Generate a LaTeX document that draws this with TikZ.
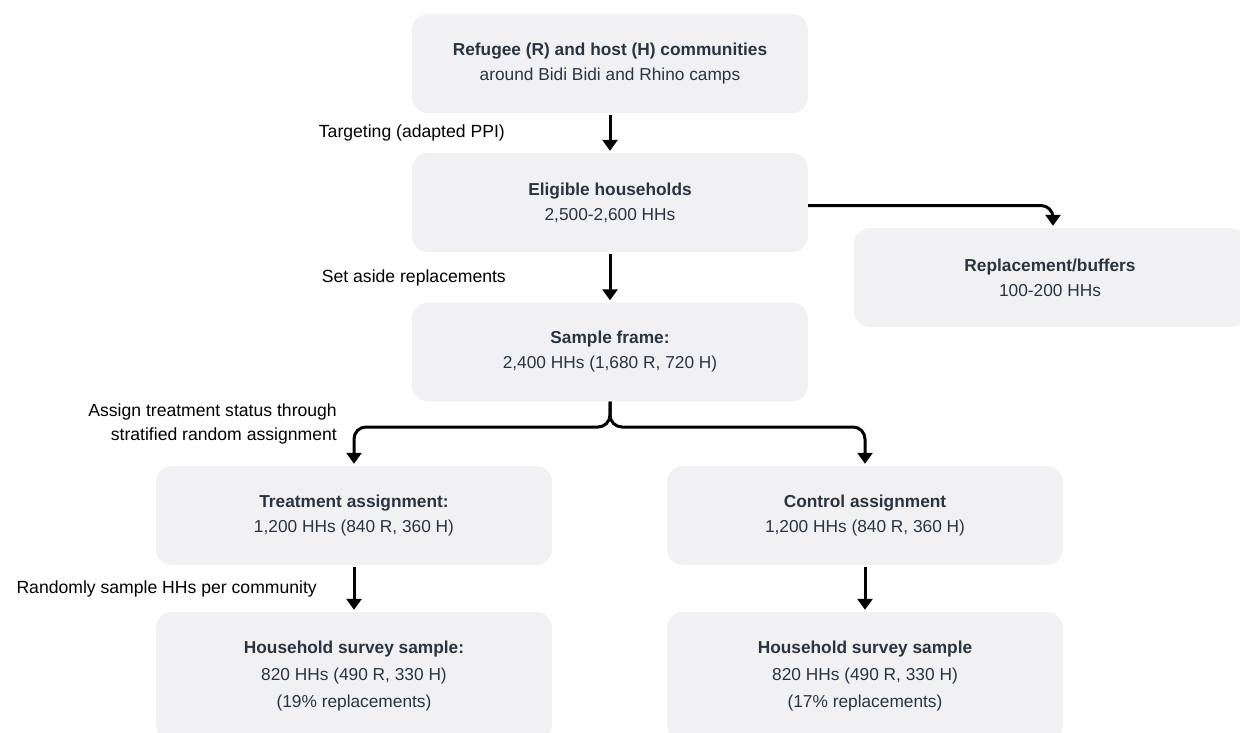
\documentclass[tikz,border=0pt]{standalone}
\usepackage{fontspec}
\setmainfont{Liberation Sans}
\usetikzlibrary{arrows.meta}
\definecolor{boxfill}{HTML}{F1F1F3}
\definecolor{textdark}{HTML}{2A3441}
\tikzset{
  box/.style={rectangle, rounded corners=16pt, fill=boxfill, minimum width=396pt, minimum height=99pt, align=center, text=textdark, font=\fontsize{17.3}{25}\selectfont, inner sep=0pt},
  tallbox/.style={box, minimum height=128pt, font=\fontsize{17.3}{27}\selectfont},
  lbl/.style={font=\fontsize{17.6}{24}\selectfont, text=black, inner sep=0pt},
  arr/.style={line width=3pt, -{Triangle[length=11pt,width=15pt]}},
}
\begin{document}
\begin{tikzpicture}[x=1pt,y=-1pt]
\useasboundingbox (0,0) rectangle (1240,733);
\clip (0,0) rectangle (1240,733);
\node[box] (top) at (610,63.5) {\textbf{Refugee (R) and host (H) communities}\\around Bidi Bidi and Rhino camps};
\node[box] (elig) at (610,202.5) {\textbf{Eligible households}\\2,500-2,600 HHs};
\node[box] (samp) at (610,352) {\textbf{Sample frame:}\\2,400 HHs (1,680 R, 720 H)};
\node[box, minimum width=392pt] (repl) at (1050,277.5) {\textbf{Replacement/buffers}\\100-200 HHs};
\node[box] (treat) at (354,515.5) {\textbf{Treatment assignment:}\\1,200 HHs (840 R, 360 H)};
\node[box] (ctrl) at (865,515.5) {\textbf{Control assignment}\\1,200 HHs (840 R, 360 H)};
\node[tallbox] (hhl) at (354,676) {\textbf{Household survey sample:}\\820 HHs (490 R, 330 H)\\(19\% replacements)};
\node[tallbox] (hhr) at (865,676) {\textbf{Household survey sample}\\820 HHs (490 R, 330 H)\\(17\% replacements)};

\node[lbl, anchor=east] (l1) at (505,133) {Targeting (adapted PPI)};
\node[lbl, anchor=east] (l2) at (506,278) {Set aside replacements};
\node[lbl, anchor=east, align=right] (l3) at (337,424) {Assign treatment status through\\stratified random assignment};
\node[lbl, anchor=east] (l4) at (317,589) {Randomly sample HHs per community};

\coordinate (split) at (610,427);
\draw[arr] ([yshift=-2pt]top.south) -- ([yshift=2pt]elig.north);
\draw[arr] ([yshift=-2pt]elig.south) -- ([yshift=2pt]samp.north);
\draw[arr, rounded corners=12pt] ([yshift=-3pt]elig.east) -| ([xshift=3pt,yshift=2pt]repl.north);
\draw[arr, rounded corners=12pt] (samp.south) -- (split) -| ([yshift=2pt]treat.north);
\draw[arr, rounded corners=12pt] (samp.south) -- (split) -| ([yshift=2pt]ctrl.north);
\draw[arr] ([yshift=-2pt]treat.south) -- ([yshift=2pt]hhl.north);
\draw[arr] ([yshift=-2pt]ctrl.south) -- ([yshift=2pt]hhr.north);
\end{tikzpicture}
\end{document}
